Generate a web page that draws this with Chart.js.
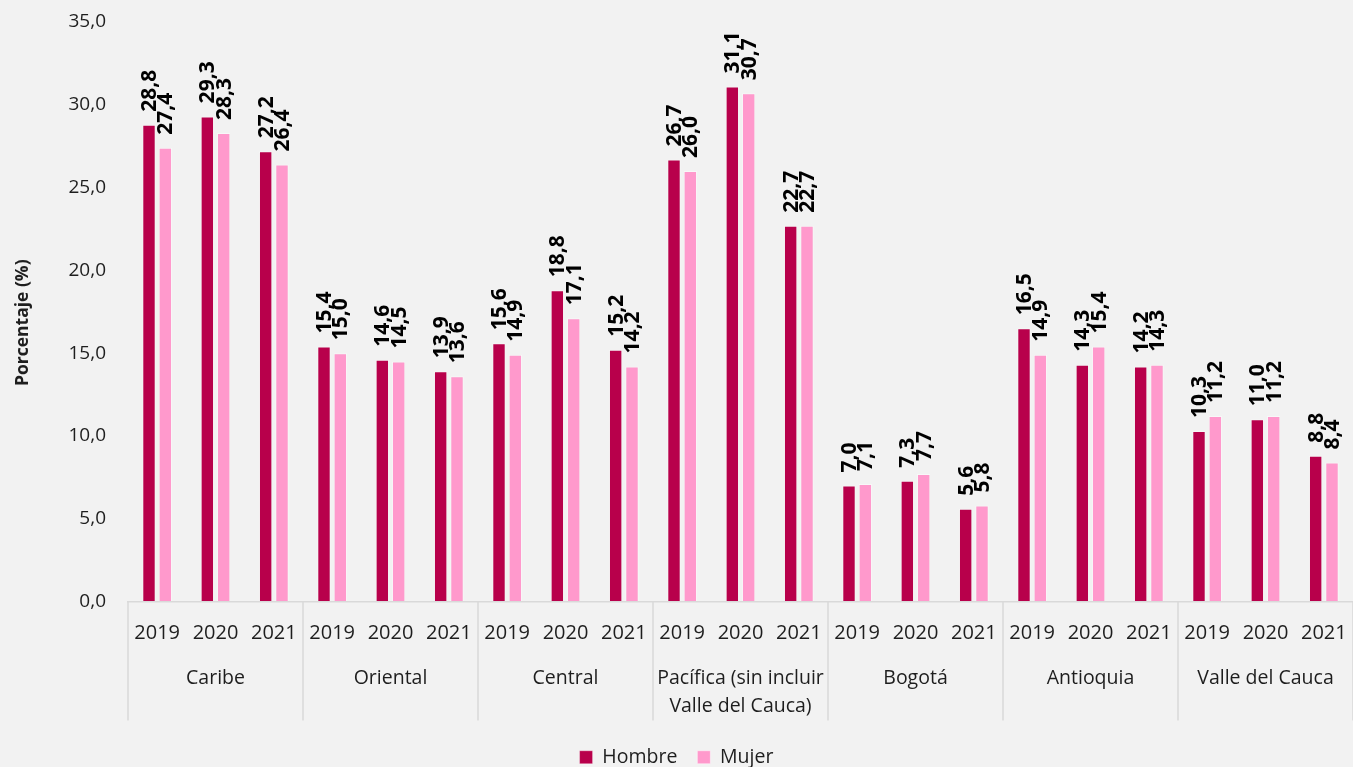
<!DOCTYPE html>
<html>
<head>
<meta charset="utf-8">
<script src="https://cdn.jsdelivr.net/npm/chart.js@4/dist/chart.umd.min.js"></script>
<style>
  html, body { margin: 0; padding: 0; background: #F2F2F2; overflow: hidden; }
  #wrap { width: 1353px; height: 767px; position: relative; }
</style>
</head>
<body>
<div id="wrap"><canvas id="c"></canvas></div>
<script>
const regions = ['Caribe', 'Oriental', 'Central', ['Pacífica (sin incluir', 'Valle del Cauca)'], 'Bogotá', 'Antioquia', 'Valle del Cauca'];
const years = ['2019', '2020', '2021'];
const hombre = [28.8, 29.3, 27.2, 15.4, 14.6, 13.9, 15.6, 18.8, 15.2, 26.7, 31.1, 22.7, 7.0, 7.3, 5.6, 16.5, 14.3, 14.2, 10.3, 11.0, 8.8];
const mujer  = [27.4, 28.3, 26.4, 15.0, 14.5, 13.6, 14.9, 17.1, 14.2, 26.0, 30.7, 22.7, 7.1, 7.7, 5.8, 14.9, 15.4, 14.3, 11.2, 11.2, 8.4];
const seriesNames = ['Hombre', 'Mujer'];
const yTicks = [0, 5, 10, 15, 20, 25, 30, 35];
const yTitle = 'Porcentaje (%)';

const labels = [];
regions.forEach(() => years.forEach(y => labels.push(y)));

const FONT = "'Open Sans', 'Noto Sans', sans-serif";
const TXT = '#1e1e1e';
const fmt = v => v.toFixed(1).replace('.', ',');

const bgPlugin = {
  id: 'bg',
  beforeDraw(chart) {
    const ctx = chart.ctx;
    ctx.save();
    ctx.fillStyle = '#F2F2F2';
    ctx.fillRect(0, 0, chart.width, chart.height);
    ctx.restore();
  }
};

const legendShift = {
  id: 'legendShift',
  afterLayout(chart) {
    if (chart.legend) { chart.legend.top += 10; chart.legend.bottom += 10; }
  }
};

const valueLabels = {
  id: 'valueLabels',
  afterDatasetsDraw(chart) {
    const ctx = chart.ctx;
    ctx.save();
    ctx.font = "bold 21px " + FONT;
    ctx.fillStyle = '#000';
    ctx.textAlign = 'left';
    ctx.textBaseline = 'middle';
    chart.data.datasets.forEach((ds, di) => {
      const meta = chart.getDatasetMeta(di);
      meta.data.forEach((bar, i) => {
        ctx.save();
        ctx.translate(bar.x + 1, bar.y - 13);
        ctx.rotate(-Math.PI / 2);
        ctx.fillText(fmt(ds.data[i]), 0, 0);
        ctx.restore();
      });
    });
    ctx.restore();
  }
};

const groupAxis = {
  id: 'groupAxis',
  afterDraw(chart) {
    const ctx = chart.ctx;
    const x = chart.scales.x;
    const ca = chart.chartArea;
    const n = years.length;
    ctx.save();
    ctx.strokeStyle = '#D9D9D9';
    ctx.lineWidth = 1.5;
    const bounds = [ca.left];
    for (let g = 1; g < regions.length; g++) {
      bounds.push((x.getPixelForValue(g * n - 1) + x.getPixelForValue(g * n)) / 2);
    }
    bounds.push(ca.right);
    bounds.forEach(bx => {
      ctx.beginPath();
      ctx.moveTo(bx, ca.bottom);
      ctx.lineTo(bx, ca.bottom + 119);
      ctx.stroke();
    });
    ctx.font = "19.5px " + FONT;
    ctx.fillStyle = TXT;
    ctx.textAlign = 'center';
    ctx.textBaseline = 'middle';
    regions.forEach((r, g) => {
      const cx = x.getPixelForValue(g * n + 1);
      const lines = Array.isArray(r) ? r : [r];
      lines.forEach((ln, k) => ctx.fillText(ln, cx, ca.bottom + 77 + k * 28));
    });
    // y-axis title
    ctx.font = "bold 17.5px " + FONT;
    ctx.save();
    ctx.translate(23, (ca.top + ca.bottom) / 2 + 11);
    ctx.rotate(-Math.PI / 2);
    ctx.fillText(yTitle, 0, 0);
    ctx.restore();
    ctx.restore();
  }
};

new Chart(document.getElementById('c'), {
  type: 'bar',
  data: {
    labels: labels,
    datasets: [
      { label: seriesNames[0], data: hombre, backgroundColor: '#B8004B', borderColor: 'rgba(255,255,255,0.35)', borderWidth: 1,
        categoryPercentage: 0.56, barPercentage: 0.82 },
      { label: seriesNames[1], data: mujer, backgroundColor: '#FF99CC', borderColor: 'rgba(255,255,255,0.45)', borderWidth: 1,
        categoryPercentage: 0.56, barPercentage: 0.82 }
    ]
  },
  options: {
    responsive: true,
    maintainAspectRatio: false,
    animation: false,
    layout: { padding: { top: 22, right: 0, left: 0, bottom: 0 } },
    plugins: {
      legend: {
        position: 'bottom',
        labels: {
          boxWidth: 13, boxHeight: 13, padding: 20,
          color: TXT, font: { family: FONT, size: 19.5 }
        }
      },
      tooltip: { enabled: false }
    },
    scales: {
      x: {
        grid: { display: true, drawOnChartArea: false, drawTicks: true, tickLength: 20, color: 'rgba(0,0,0,0)' },
        border: { display: true, color: '#D9D9D9', width: 1.5 },
        ticks: { color: TXT, font: { family: FONT, size: 20 }, padding: 0, autoSkip: false, maxRotation: 0 },
        afterFit(s) { s.height = 116; }
      },
      y: {
        min: 0, max: 35,
        grid: { display: true, drawOnChartArea: false, drawTicks: true, tickLength: 22, color: 'rgba(0,0,0,0)' },
        border: { display: false },
        afterBuildTicks(s) { s.ticks = yTicks.map(v => ({ value: v })); },
        ticks: { color: TXT, font: { family: FONT, size: 19 }, padding: 0, callback: v => fmt(v) },
        title: { display: false },
        afterFit(s) { s.width = 128; }
      }
    }
  },
  plugins: [bgPlugin, legendShift, valueLabels, groupAxis]
});
</script>
</body>
</html>
